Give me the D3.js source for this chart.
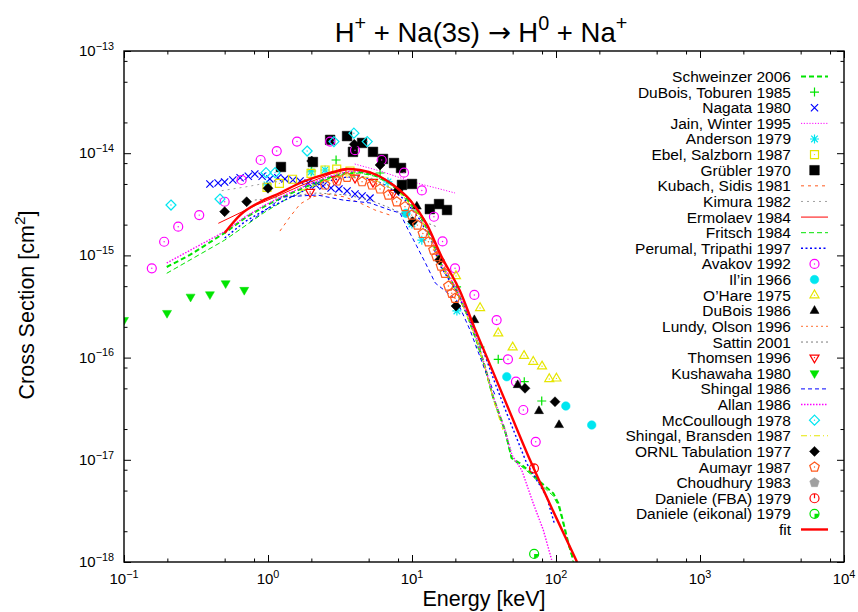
<!DOCTYPE html>
<html><head><meta charset="utf-8">
<script src="https://cdn.jsdelivr.net/npm/d3@7"></script>
<style>
body{margin:0;background:#fff}
text{font-family:"Liberation Sans",Arial,Helvetica,sans-serif;fill:#000}
</style></head><body>
<svg id="chart" width="858" height="612"></svg>
<script>
// Charge transfer H+ + Na(3s): energy [keV], cross section [cm^2]
const schweinzer2006 = [[0.198,7.70e-16],[0.287,1.01e-15],[0.50,1.66e-15],[0.692,2.32e-15],[0.953,3.04e-15],[1.31,3.81e-15],[1.81,4.67e-15],[2.49,5.60e-15],[3.42,6.40e-15],[4.35,6.55e-15],[5.53,6.12e-15],[7.03,5.11e-15],[8.94,3.81e-15],[11.4,2.48e-15],[13.8,1.48e-15],[15.6,8.62e-16],[20.4,4.59e-16],[24.0,2.73e-16],[28.1,1.49e-16],[32.1,8.15e-17],[36.5,4.14e-17],[44.2,1.96e-17],[49.2,1.04e-17],[56.2,9.24e-18],[67.8,7.38e-18],[77.4,6.11e-18],[95.8,4.70e-18],[104,3.75e-18],[110,2.77e-18],[122,1.52e-18],[132,1.05e-18]];
const duboisToburen1985 = [[2.01,6.70e-15],[2.97,8.58e-15],[6.0,6.40e-15],[20.4,4.91e-16],[29.7,1.27e-16],[39.7,9.62e-17],[60.2,5.81e-17],[79.6,3.76e-17]];
const nagata1980 = [[0.395,5.0e-15],[0.45,5.11e-15],[0.50,5.23e-15],[0.57,5.47e-15],[0.64,5.75e-15],[0.73,5.95e-15],[0.81,6.26e-15],[0.91,5.95e-15],[1.03,5.60e-15],[1.17,5.75e-15],[1.31,5.60e-15],[1.49,5.47e-15],[1.67,5.35e-15],[1.90,5.11e-15],[2.15,4.89e-15],[2.41,4.78e-15],[2.74,4.57e-15],[3.11,4.47e-15],[3.54,4.27e-15],[4.02,3.99e-15],[4.50,3.81e-15],[5.11,3.64e-15]];
const jainWinter1995 = [[4.0,7.84e-15],[6.0,6.70e-15],[8.26,5.75e-15],[11.4,5.0e-15],[15.6,4.47e-15],[19.9,4.08e-15]];
const anderson1979 = [[0.984,4.89e-15],[1.99,6.55e-15],[2.49,6.85e-15],[6.81,5.23e-15],[10.0,2.03e-15],[11.7,1.41e-15],[20.5,2.86e-16]];
const ebelSalzborn1987 = [[0.984,4.64e-15],[1.20,5.07e-15],[1.48,5.56e-15],[1.99,6.36e-15],[2.49,6.85e-15],[3.0,7.0e-15],[3.71,6.70e-15]];
const grubler1970 = [[1.23,7.33e-15],[2.05,8.2e-15],[2.70,1.35e-14],[3.54,1.47e-14],[3.89,1.03e-14],[4.50,1.26e-14],[5.36,1.03e-14],[6.29,8.78e-15],[7.50,8.02e-15],[8.39,7.17e-15],[8.52,4.89e-15],[10.0,5.0e-15],[13.3,2.84e-15],[15.4,3.18e-15],[17.5,2.78e-15]];
const kubachSidis1981 = [[1.21,1.73e-15],[1.42,2.38e-15],[1.67,3.18e-15],[2.02,3.73e-15],[2.57,3.99e-15],[3.42,3.73e-15],[4.35,3.26e-15],[5.53,2.78e-15],[7.03,2.48e-15]];
const kimura1982 = [[0.477,4.30e-15],[0.692,4.67e-15],[0.984,5.11e-15],[1.42,5.47e-15]];
const ermolaev1984 = [[0.452,2.06e-15],[0.828,3.11e-15],[1.21,3.90e-15],[1.67,4.78e-15],[2.83,6.40e-15],[3.71,7.0e-15],[5.11,6.55e-15],[7.38,5.0e-15],[9.69,3.56e-15],[12.3,2.22e-15],[15.6,1.0e-15]];
const fritsch1984 = [[0.198,6.68e-16],[0.50,1.41e-15],[0.692,1.94e-15],[0.953,2.66e-15],[1.31,3.48e-15],[1.81,4.37e-15],[2.49,5.47e-15],[3.42,6.26e-15],[4.35,6.40e-15],[5.53,5.95e-15],[7.03,5.0e-15],[8.94,3.64e-15],[11.4,2.38e-15],[13.8,1.41e-15],[15.6,8.24e-16],[20.4,4.39e-16],[24.0,2.60e-16],[28.1,1.42e-16],[32.1,7.91e-17],[36.5,4.02e-17],[44.2,1.87e-17],[49.2,1.02e-17],[56.2,8.89e-18],[67.8,7.10e-18],[77.4,5.80e-18],[95.8,4.43e-18],[104,3.53e-18],[110,2.64e-18],[122,1.47e-18],[132,1.0e-18]];
const perumalTripathi1997 = [[0.50,1.48e-15],[0.692,2.14e-15],[0.953,2.78e-15],[1.31,3.48e-15],[1.81,4.37e-15],[2.49,5.23e-15],[3.42,5.80e-15],[4.35,5.95e-15],[5.53,5.47e-15],[7.03,4.57e-15],[8.94,3.48e-15],[11.4,2.22e-15],[13.8,1.32e-15],[15.6,8.05e-16],[20.4,4.39e-16],[25.3,2.33e-16],[31.1,1.19e-16],[37.7,5.64e-17],[45.5,2.85e-17],[62.6,9.24e-18],[86.1,4.36e-18],[97.3,2.39e-18]];
const avakov1992 = [[0.156,7.48e-16],[0.19,1.36e-15],[0.238,1.91e-15],[0.333,2.48e-15],[0.50,3.35e-15],[0.656,5.47e-15],[0.889,8.58e-15],[1.15,1.05e-14],[1.59,1.30e-14],[2.70,1.30e-14],[4.02,1.07e-14],[6.16,8.58e-15],[8.80,6.45e-15],[11.7,4.32e-15],[14.2,2.39e-15],[16.3,1.37e-15],[19.9,7.48e-16],[27.1,4.10e-16],[38.7,2.33e-16],[46.4,9.62e-17],[52.7,5.81e-17],[59.3,3.07e-17],[72.3,1.50e-17]];
const ilin1966 = [[9.08,2.58e-15],[45.5,6.5e-17],[117,3.36e-17],[177,2.19e-17]];
const ohare1975 = [[20.2,6.29e-16],[29.7,3.06e-16],[39.7,1.73e-16],[50.0,1.26e-16],[60.0,1.04e-16],[69.5,9.12e-17],[80.0,8.22e-17],[89.8,6.18e-17],[100.7,6.26e-17]];
const dubois1986 = [[10.8,3.01e-15],[27.1,2.33e-16],[54.2,5.39e-17],[76.2,3.0e-17],[105,2.19e-17]];
const lundyOlson1996 = [];
const sattin2001 = [[0.81,3.48e-15],[1.27,3.73e-15],[2.19,4.08e-15],[3.54,3.90e-15],[5.11,3.48e-15],[7.03,2.91e-15],[9.69,2.38e-15],[12.3,2.12e-15],[14.9,1.90e-15]];
const thomsen1996 = [[1.96,4.17e-15],[2.97,5.60e-15],[4.02,5.75e-15],[5.36,5.23e-15],[7.38,4.08e-15]];
const kushawaha1980 = [[0.1,2.33e-16],[0.199,2.73e-16],[0.29,3.94e-16],[0.395,4.16e-16],[0.508,5.33e-16],[0.684,4.59e-16]];
const shingal1986 = [[0.75,2.14e-15],[1.27,3.73e-15],[2.19,3.90e-15],[3.32,3.48e-15],[5.11,3.26e-15],[7.03,2.78e-15],[8.26,2.60e-15],[9.19,1.90e-15],[10.7,1.26e-15],[12.3,8.62e-16],[14.5,5.37e-16],[20.4,3.66e-16],[25.3,1.86e-16],[32.1,7.56e-17],[37.7,4.31e-17]];
const allan1986 = [[0.198,8.43e-16],[0.50,1.71e-15],[0.692,2.38e-15],[0.953,3.11e-15],[1.31,3.90e-15],[1.81,4.78e-15],[2.49,5.75e-15],[3.42,6.55e-15],[4.35,6.70e-15],[5.53,6.26e-15],[7.03,5.23e-15],[8.94,3.90e-15],[11.4,2.54e-15],[13.8,1.51e-15],[15.6,8.82e-16],[20.4,4.69e-16],[24.0,2.79e-16],[28.1,1.52e-16],[32.1,8.28e-17],[36.5,4.21e-17],[44.2,1.96e-17],[49.5,1.11e-17],[57.8,7.94e-18],[69.5,3.75e-18],[81.6,2.06e-18],[93.3,1.05e-18]];
const mccoullough1978 = [[0.212,3.11e-15],[0.464,3.56e-15],[0.969,6.45e-15],[1.12,6.45e-15],[1.87,1.05e-14],[2.87,1.30e-14],[3.95,1.57e-14],[4.89,1.30e-14]];
const shingalBransden1987 = [[1.67,4.27e-15],[3.16,5.95e-15],[5.11,5.80e-15],[8.26,4.08e-15],[11.4,2.43e-15],[15.6,8.62e-16],[21.5,3.80e-16],[28.1,1.49e-16],[32.1,8.0e-17],[37.7,3.44e-17],[42.8,1.96e-17]];
const ornl1977 = [[0.50,2.68e-15],[0.711,3.35e-15],[1.0,4.54e-15],[2.01,8.39e-15],[3.97,1.22e-14],[6.0,7.67e-15],[8.03,4.37e-15],[10.1,2.14e-15],[15.5,9.02e-16],[20.2,3.20e-16],[60.9,5.01e-17],[98.4,3.70e-17]];
const aumayr1987 = [[2.49,4.89e-15],[3.01,5.35e-15],[3.54,5.81e-15],[4.50,5.26e-15],[5.27,4.89e-15],[6.0,4.47e-15],[6.85,3.90e-15],[7.83,3.35e-15],[8.94,3.0e-15],[9.95,2.48e-15],[10.9,1.98e-15],[11.9,1.64e-15],[13.0,1.36e-15],[14.1,1.13e-15],[14.8,9.71e-16],[15.9,7.87e-16],[16.9,6.68e-16],[17.9,5.02e-16],[18.9,4.26e-16],[19.9,3.80e-16]];
const choudhury1983 = [];
const danieleFBA1979 = [[70.3,8.26e-18]];
const danieleEikonal1979 = [[70.5,1.20e-18]];
const fit = [[0.50,1.66e-15],[0.64,2.48e-15],[0.88,3.33e-15],[1.21,4.08e-15],[1.67,5.11e-15],[2.3,6.0e-15],[2.83,6.55e-15],[3.54,7.0e-15],[4.35,6.85e-15],[5.71,6.12e-15],[7.38,4.89e-15],[9.69,3.48e-15],[12.7,2.0e-15],[15.9,1.0e-15],[21.5,4.5e-16],[27,2.0e-16],[33.2,1.0e-16],[45,3.6e-17],[65.9,1.0e-17],[95,3.2e-18],[140,1.0e-18]];

const xMajorTicks = [0.1, 1, 10, 100, 1000, 10000];
const xTickExponents = ["-1", "0", "1", "2", "3", "4"];
const yMajorTicks = [1e-18, 1e-17, 1e-16, 1e-15, 1e-14, 1e-13];
const yTickExponents = ["-18", "-17", "-16", "-15", "-14", "-13"];
const minorMantissas = [2, 5, 8];

const GREEN = "#00e400", BLUE = "#0000ff", MAGENTA = "#ff00ff", CYAN = "#00e6f0",
      YELLOW = "#e6e600", ORANGE = "#ff5a1e", SALMON = "#ff8c5a", GRAY = "#a0a0a0",
      DGRAY = "#7a7a7a", RED = "#ff0000", BLACK = "#000000";

const series = [
  {name: "Schweinzer 2006", data: schweinzer2006, kind: "line", color: GREEN, width: 2, dash: "5,3"},
  {name: "DuBois, Toburen 1985", data: duboisToburen1985, kind: "point", mark: "plus", color: GREEN},
  {name: "Nagata 1980", data: nagata1980, kind: "point", mark: "cross", color: BLUE},
  {name: "Jain, Winter 1995", data: jainWinter1995, kind: "line", color: MAGENTA, width: 1, dash: "1.2,1.6"},
  {name: "Anderson 1979", data: anderson1979, kind: "point", mark: "star", color: CYAN},
  {name: "Ebel, Salzborn 1987", data: ebelSalzborn1987, kind: "point", mark: "squareOpen", color: YELLOW},
  {name: "Grübler 1970", data: grubler1970, kind: "point", mark: "squareFilled", color: BLACK},
  {name: "Kubach, Sidis 1981", data: kubachSidis1981, kind: "line", color: ORANGE, width: 1, dash: "3,4"},
  {name: "Kimura 1982", data: kimura1982, kind: "line", color: GRAY, width: 1, dash: "2,4"},
  {name: "Ermolaev 1984", data: ermolaev1984, kind: "line", color: RED, width: 1, dash: null},
  {name: "Fritsch 1984", data: fritsch1984, kind: "line", color: GREEN, width: 1, dash: "5,3"},
  {name: "Perumal, Tripathi 1997", data: perumalTripathi1997, kind: "line", color: BLUE, width: 1.4, dash: "2,2.5"},
  {name: "Avakov 1992", data: avakov1992, kind: "point", mark: "circleOpen", color: MAGENTA},
  {name: "Il\u2019in 1966", data: ilin1966, kind: "point", mark: "circleFilled", color: CYAN},
  {name: "O\u2019Hare 1975", data: ohare1975, kind: "point", mark: "triangleOpen", color: YELLOW},
  {name: "DuBois 1986", data: dubois1986, kind: "point", mark: "triangleFilled", color: BLACK},
  {name: "Lundy, Olson 1996", data: lundyOlson1996, kind: "line", color: SALMON, width: 1.4, dash: "2,3"},
  {name: "Sattin 2001", data: sattin2001, kind: "line", color: DGRAY, width: 1, dash: "2,3"},
  {name: "Thomsen 1996", data: thomsen1996, kind: "point", mark: "invTriangleOpen", color: RED},
  {name: "Kushawaha 1980", data: kushawaha1980, kind: "point", mark: "invTriangleFilled", color: GREEN},
  {name: "Shingal 1986", data: shingal1986, kind: "line", color: BLUE, width: 1, dash: "4,3"},
  {name: "Allan 1986", data: allan1986, kind: "line", color: MAGENTA, width: 1.4, dash: "1.5,1.5"},
  {name: "McCoullough 1978", data: mccoullough1978, kind: "point", mark: "diamondOpen", color: CYAN},
  {name: "Shingal, Bransden 1987", data: shingalBransden1987, kind: "line", color: YELLOW, width: 1, dash: "6,3,1,3"},
  {name: "ORNL Tabulation 1977", data: ornl1977, kind: "point", mark: "diamondFilled", color: BLACK},
  {name: "Aumayr 1987", data: aumayr1987, kind: "point", mark: "pentagonOpen", color: ORANGE},
  {name: "Choudhury 1983", data: choudhury1983, kind: "point", mark: "pentagonFilled", color: GRAY},
  {name: "Daniele (FBA) 1979", data: danieleFBA1979, kind: "point", mark: "circleLine", color: RED},
  {name: "Daniele (eikonal) 1979", data: danieleEikonal1979, kind: "point", mark: "circleQuarter", color: GREEN},
  {name: "fit", data: fit, kind: "line", color: RED, width: 2.4, dash: null, smooth: true}
];

const plot = {left: 124, right: 844, top: 51, bottom: 562};
const svg = d3.select("#chart");

const x = d3.scaleLog().domain([0.1, 1e4]).range([plot.left, plot.right]);
const y = d3.scaleLog().domain([1e-18, 1e-13]).range([plot.bottom, plot.top]);

const minorOf = ticks => ticks.slice(0, -1).flatMap(t => minorMantissas.map(m => t * m));
const xMinor = minorOf(xMajorTicks), yMinor = minorOf(yMajorTicks);

// inward ticks on all four sides
function tickAxis(axisFn, scale, values, len, transform) {
  const a = axisFn(scale).tickValues(values).tickSizeInner(-len).tickSizeOuter(0).tickFormat("");
  const g = svg.append("g").attr("transform", transform).call(a);
  g.select(".domain").remove();
  g.selectAll(".tick line").attr("stroke", "#000").attr("stroke-width", 1);
  return g;
}
tickAxis(d3.axisBottom, x, xMajorTicks, 7, `translate(0,${plot.bottom})`);
tickAxis(d3.axisBottom, x, xMinor, 3.5, `translate(0,${plot.bottom})`);
tickAxis(d3.axisTop, x, xMajorTicks, 7, `translate(0,${plot.top})`);
tickAxis(d3.axisTop, x, xMinor, 3.5, `translate(0,${plot.top})`);
tickAxis(d3.axisLeft, y, yMajorTicks, 7, `translate(${plot.left},0)`);
tickAxis(d3.axisLeft, y, yMinor, 3.5, `translate(${plot.left},0)`);
tickAxis(d3.axisRight, y, yMajorTicks, 7, `translate(${plot.right},0)`);
tickAxis(d3.axisRight, y, yMinor, 3.5, `translate(${plot.right},0)`);

// text with superscripts: parts = [[string, isSup, fontFamily?], ...]
function richText(sel, parts, size) {
  let prevSup = false;
  parts.forEach(([t, sup, family]) => {
    const ts = sel.append("tspan").text(t).attr("font-size", sup ? size * 0.72 : size);
    if (family) ts.style("font-family", family);
    const shift = size * 0.42;
    if (sup && !prevSup) ts.attr("dy", -shift);
    else if (!sup && prevSup) ts.attr("dy", shift);
    prevSup = sup;
  });
  return sel;
}

xMajorTicks.forEach((v, i) => {
  const t = svg.append("text").attr("x", x(v)).attr("y", 584).attr("text-anchor", "middle");
  richText(t, [["10", false], [xTickExponents[i].replace("-", "\u2212"), true]], 15);
});
yMajorTicks.forEach((v, i) => {
  const t = svg.append("text").attr("x", 114).attr("y", y(v) + 5).attr("text-anchor", "end");
  richText(t, [["10", false], [yTickExponents[i].replace("-", "\u2212"), true]], 15);
});

// titles
richText(svg.append("text").attr("x", 481).attr("y", 42).attr("text-anchor", "middle"),
  [["H", false], ["+", true], [" + Na(3s) ", false], ["\u2192", false, "DejaVu Sans"], [" H", false],
   ["0", true], [" + Na", false], ["+", true]], 27.5);
richText(svg.append("text").attr("x", 484).attr("y", 606).attr("text-anchor", "middle"),
  [["Energy [keV]", false]], 21.5);
richText(svg.append("text").attr("transform", "translate(34,305) rotate(-90)").attr("text-anchor", "middle"),
  [["Cross Section [cm", false], ["2", true], ["]", false]], 21.5);

// plot marks, clipped to the frame
svg.append("clipPath").attr("id", "clip").append("rect")
  .attr("x", plot.left).attr("y", plot.top)
  .attr("width", plot.right - plot.left).attr("height", plot.bottom - plot.top);
const layer = svg.append("g").attr("clip-path", "url(#clip)");

function polygon(n, r, rot) {
  const pts = d3.range(n).map(k => {
    const a = rot + k * 2 * Math.PI / n;
    return [r * Math.sin(a), -r * Math.cos(a)];
  });
  return "M" + pts.map(p => p.map(v => v.toFixed(2)).join(",")).join("L") + "Z";
}
const DOT = "M-0.7,0a0.7,0.7 0 1,0 1.4,0a0.7,0.7 0 1,0 -1.4,0";
function markSpec(type) {
  switch (type) {
    case "plus": return {d: "M-4.5,0H4.5M0,-4.5V4.5", fill: false};
    case "cross": return {d: "M-3.6,-3.6L3.6,3.6M-3.6,3.6L3.6,-3.6", fill: false};
    case "star": return {d: "M-4.5,0H4.5M0,-4.5V4.5M-3.3,-3.3L3.3,3.3M-3.3,3.3L3.3,-3.3", fill: false};
    case "squareOpen": return {d: "M-4,-4H4V4H-4Z", fill: false, dot: true};
    case "squareFilled": return {d: "M-4.8,-4.8H4.8V4.8H-4.8Z", fill: true};
    case "circleOpen": return {d: "M-4.5,0a4.5,4.5 0 1,0 9,0a4.5,4.5 0 1,0 -9,0", fill: false, dot: true};
    case "circleFilled": return {d: "M-4.3,0a4.3,4.3 0 1,0 8.6,0a4.3,4.3 0 1,0 -8.6,0", fill: true};
    case "triangleOpen": return {d: polygon(3, 5.2, 0), fill: false, dot: true};
    case "triangleFilled": return {d: polygon(3, 5.2, 0), fill: true};
    case "invTriangleOpen": return {d: polygon(3, 5.2, Math.PI), fill: false, dot: true};
    case "invTriangleFilled": return {d: polygon(3, 5.2, Math.PI), fill: true};
    case "diamondOpen": return {d: polygon(4, 5, 0), fill: false, dot: true};
    case "diamondFilled": return {d: polygon(4, 5, 0), fill: true};
    case "pentagonOpen": return {d: polygon(5, 5, 0), fill: false, dot: true};
    case "pentagonFilled": return {d: polygon(5, 5, 0), fill: true};
    case "circleLine": return {d: "M-4.5,0a4.5,4.5 0 1,0 9,0a4.5,4.5 0 1,0 -9,0M0,-4.5V0", fill: false};
    case "circleQuarter": return {d: "M-4.5,0a4.5,4.5 0 1,0 9,0a4.5,4.5 0 1,0 -9,0", fill: false, wedge: "M0,0H4.5A4.5,4.5 0 0,1 0,4.5Z"};
  }
}
function drawMark(g, type, color, px, py) {
  const s = markSpec(type);
  const m = g.append("g").attr("transform", `translate(${px},${py})`);
  m.append("path").attr("d", s.d)
    .attr("fill", s.fill ? color : "none")
    .attr("stroke", color).attr("stroke-width", s.fill ? 0.5 : 1.2);
  if (s.dot) m.append("path").attr("d", DOT).attr("fill", color);
  if (s.wedge) m.append("path").attr("d", s.wedge).attr("fill", color);
}

function styleLine(p, s) {
  p.attr("fill", "none").attr("stroke", s.color).attr("stroke-width", s.width);
  if (s.dash) p.attr("stroke-dasharray", s.dash);
  return p;
}

series.forEach(s => {
  if (!s.data.length) return;
  if (s.kind === "line") {
    const line = d3.line().x(d => x(d[0])).y(d => y(d[1]))
      .curve(s.smooth ? d3.curveMonotoneX : d3.curveLinear);
    styleLine(layer.append("path").attr("d", line(s.data)), s);
  } else {
    s.data.forEach(d => drawMark(layer, s.mark, s.color, x(d[0]), y(d[1])));
  }
});

// frame
svg.append("rect").attr("x", plot.left).attr("y", plot.top)
  .attr("width", plot.right - plot.left).attr("height", plot.bottom - plot.top)
  .attr("fill", "none").attr("stroke", "#000").attr("stroke-width", 1.4);

// key
const key = svg.append("g");
series.forEach((s, i) => {
  const ry = 76.5 + i * 15.62;
  key.append("text").attr("x", 791).attr("y", ry + 5.5).attr("text-anchor", "end")
    .attr("font-size", 15.5).text(s.name);
  if (s.kind === "line") {
    styleLine(key.append("path").attr("d", `M801,${ry}H828`), s);
  } else {
    drawMark(key, s.mark, s.color, 814.5, ry);
  }
});
</script>
</body></html>
